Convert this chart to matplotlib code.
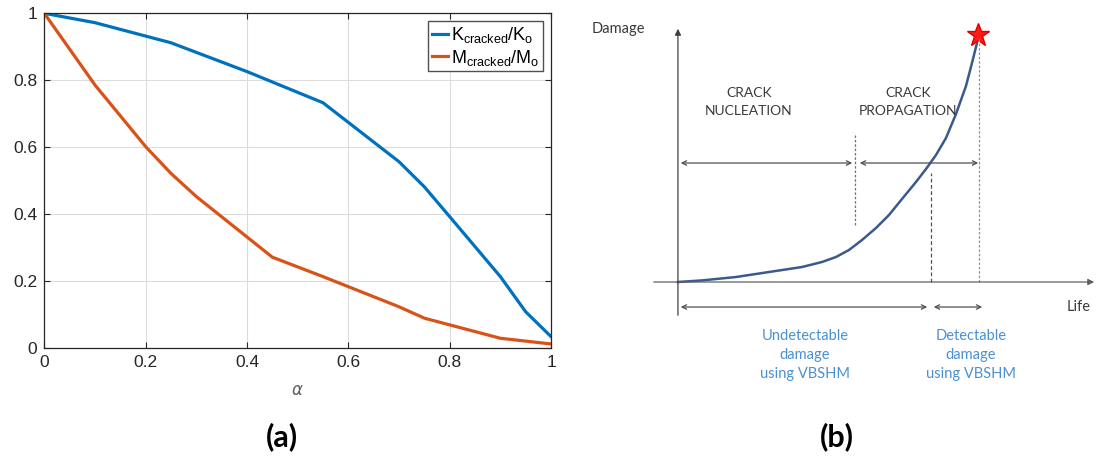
import matplotlib.pyplot as plt

# stiffness / mass ratios vs crack depth ratio alpha
alpha = [0, 0.1, 0.25, 0.4, 0.55, 0.7, 0.75, 0.8, 0.9, 0.95, 1.0]
k_ratio = [1.0, 0.972, 0.912, 0.826, 0.733, 0.557, 0.482, 0.393, 0.214, 0.109, 0.035]
alpha_m = [0, 0.1, 0.2, 0.25, 0.3, 0.45, 0.55, 0.7, 0.75, 0.8, 0.9, 1.0]
m_ratio = [1.0, 0.786, 0.602, 0.522, 0.453, 0.272, 0.214, 0.124, 0.09, 0.07, 0.03, 0.013]
ticks = [0, 0.2, 0.4, 0.6, 0.8, 1]
tick_labels = ['0', '0.2', '0.4', '0.6', '0.8', '1']

# damage vs life sketch
life = [0, 24, 58, 91, 124, 144, 158, 171, 184, 198, 211, 224, 238, 248, 258, 268, 278, 288, 294, 299]
damage = [0, 1.6, 5, 10, 15, 20, 25, 32, 42, 54, 67, 83, 100, 113, 127, 144, 168, 196, 219, 239]
failure_pt = (300, 247)
nucleation_end = 177
detect_start = 253
failure = 301

fig = plt.figure(figsize=(10.99, 4.73), dpi=100)

ax = fig.add_axes([0.0403, 0.2636, 0.4611, 0.7083])
ax.plot(alpha, k_ratio, color='#0072BD', lw=2.3, label=r'K$_\mathregular{cracked}$/K$_\mathregular{o}$')
ax.plot(alpha_m, m_ratio, color='#D95319', lw=2.3, label=r'M$_\mathregular{cracked}$/M$_\mathregular{o}$')
ax.set_xlim(0, 1)
ax.set_ylim(0, 1)
ax.set_xticks(ticks)
ax.set_xticklabels(tick_labels, fontsize=12.5, family='Liberation Sans', color='#262626')
ax.set_yticks(ticks)
ax.set_yticklabels(tick_labels, fontsize=12.5, family='Liberation Sans', color='#262626')
ax.tick_params(direction='in', top=True, right=True, length=4, width=0.8, color='#262626', pad=5)
ax.grid(True, color='#dcdcdc', lw=0.8)
for s in ax.spines.values():
    s.set_color('#262626')
    s.set_linewidth(0.9)
ax.set_xlabel(r'$\alpha$', fontsize=12, color='#606060', labelpad=8)
leg = ax.legend(loc='upper right', prop={'family': 'Liberation Sans', 'size': 13},
                handlelength=0.9, handletextpad=0.15, borderpad=0.2, labelspacing=0.15,
                fancybox=False, framealpha=1, edgecolor='#505050', borderaxespad=0.45)
leg.get_frame().set_linewidth(1.0)

# schematic panel, axes units roughly one pixel each
bx = fig.add_axes([0.5823, 0.1543, 0.4177, 0.8034])
bx.set_xlim(-38, 421)
bx.set_ylim(-118, 262)
bx.axis('off')

gray = '#3a3a3a'
blue_txt = '#4a90d2'
fnt = 'Lato'

# axes arrows
bx.annotate('', xy=(419, 0), xytext=(-27, 0),
            arrowprops=dict(arrowstyle='-|>', color='#606060', lw=0.9, mutation_scale=9))
bx.annotate('', xy=(0, 256), xytext=(0, -36),
            arrowprops=dict(arrowstyle='-|>', color='#404040', lw=0.9, mutation_scale=9))

bx.plot(life, damage, color='#3a5a8c', lw=1.8, solid_joinstyle='round')
bx.plot(*failure_pt, marker='*', markersize=17, color='#ff1a1a', markeredgecolor='#e00000')

# stage boundaries
bx.plot([nucleation_end, nucleation_end], [57, 149], color='#707070', lw=0.9, ls=(0, (2, 1.5)))
bx.plot([detect_start, detect_start], [0, 109], color='#505050', lw=0.9, ls=(0, (3, 2)))
bx.plot([failure, failure], [0, 244], color='#909090', lw=0.9, ls=(0, (2, 1.5)))

arw = dict(arrowstyle='<->', color='#505050', lw=0.9, mutation_scale=8)
bx.annotate('', xy=(0, 119), xytext=(nucleation_end, 119), arrowprops=arw)
bx.annotate('', xy=(nucleation_end + 2, 119), xytext=(failure + 2, 119), arrowprops=arw)
bx.annotate('', xy=(0, -25), xytext=(detect_start - 1, -25), arrowprops=arw)
bx.annotate('', xy=(detect_start, -25), xytext=(failure + 6, -25), arrowprops=arw)

bx.text(-86, 253, 'Damage', fontsize=10.5, family=fnt, color=gray, ha='left', va='center')
bx.text(389, -25, 'Life', fontsize=10.5, family=fnt, color=gray, ha='left', va='center')
bx.text(71, 180, 'CRACK\nNUCLEATION', fontsize=10, family=fnt, color=gray,
        ha='center', va='center', linespacing=1.6)
bx.text(230, 180, 'CRACK\nPROPAGATION', fontsize=10, family=fnt, color=gray,
        ha='center', va='center', linespacing=1.6)
bx.text(127, -73, 'Undetectable\ndamage\nusing VBSHM', fontsize=10.5, family=fnt,
        color=blue_txt, ha='center', va='center', linespacing=1.45)
bx.text(293, -73, 'Detectable\ndamage\nusing VBSHM', fontsize=10.5, family=fnt,
        color=blue_txt, ha='center', va='center', linespacing=1.45)

fig.text(282 / 1099, 1 - 437 / 473, '(a)', fontsize=22, fontweight='bold', family=fnt,
         ha='center', va='center')
fig.text(837 / 1099, 1 - 437 / 473, '(b)', fontsize=22, fontweight='bold', family=fnt,
         ha='center', va='center')

fig.savefig('out.png', dpi=100)
